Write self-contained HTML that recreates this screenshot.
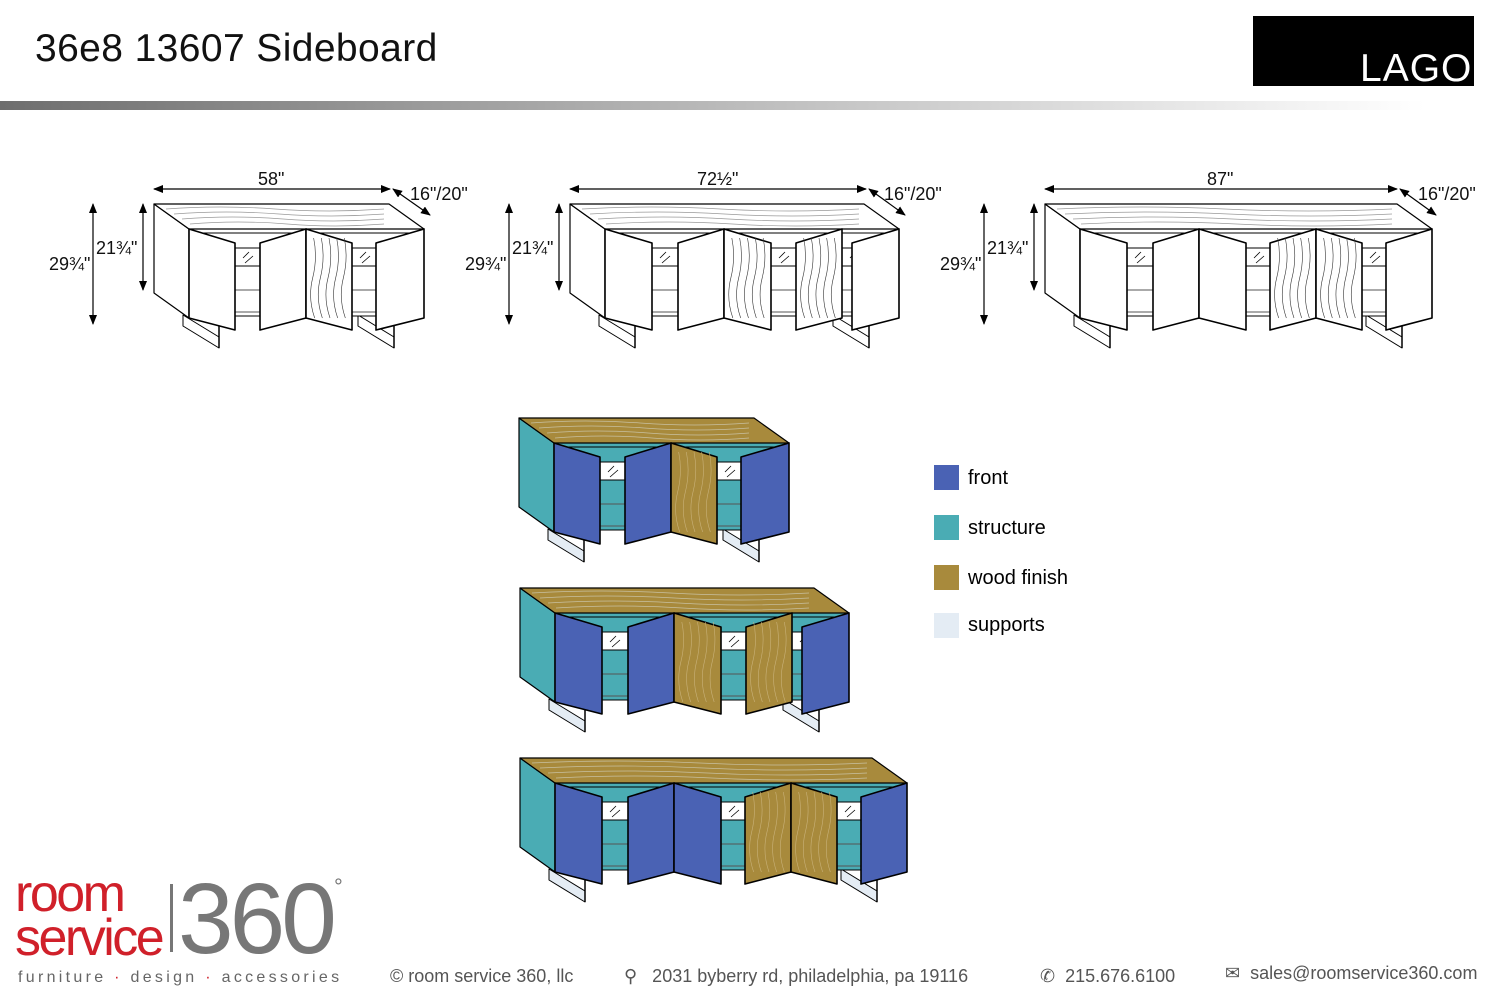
<!DOCTYPE html>
<html><head><meta charset="utf-8"><style>
body{margin:0;width:1500px;height:1000px;background:#fff;overflow:hidden;font-family:"Liberation Sans",sans-serif;position:relative}
.t{position:absolute;white-space:nowrap}
</style></head><body>
<div class="t" style="left:35px;top:27px;font-size:39px;color:#111;letter-spacing:0.4px">36e8 13607 Sideboard</div>
<div style="position:absolute;left:1253px;top:16px;width:221px;height:70px;background:#000"></div>
<div class="t" style="left:1360px;top:47px;font-size:39px;color:#fff;letter-spacing:1px">LAGO</div>
<div style="position:absolute;left:0;top:101px;width:1500px;height:9px;background:linear-gradient(90deg,#6e6e6e,#bdbdbd 50%,#fff 95%)"></div>
<svg id="s" width="1500" height="1000" style="position:absolute;left:0;top:0" xmlns="http://www.w3.org/2000/svg">
<defs><marker id="a" markerWidth="10" markerHeight="8" refX="9" refY="4" orient="auto-start-reverse" markerUnits="userSpaceOnUse"><path d="M0,0L10,4L0,8z" fill="#000"/></marker></defs>
<g font-family="Liberation Sans" font-size="18" fill="#111">
<text x="258" y="185">58"</text><text x="410" y="200">16"/20"</text><text x="96" y="254">21¾"</text><text x="49" y="270">29¾"</text>
<text x="697" y="185">72½"</text><text x="884" y="200">16"/20"</text><text x="512" y="254">21¾"</text><text x="465" y="270">29¾"</text>
<text x="1207" y="185">87"</text><text x="1418" y="200">16"/20"</text><text x="987" y="254">21¾"</text><text x="940" y="270">29¾"</text>
</g>
<g id="g"></g>
</svg>
<div style="position:absolute;left:934px;top:465px;width:25px;height:25px;background:#4a62b4"></div>
<div style="position:absolute;left:934px;top:515px;width:25px;height:25px;background:#4aacb4"></div>
<div style="position:absolute;left:934px;top:565px;width:25px;height:25px;background:#a88a3c"></div>
<div style="position:absolute;left:934px;top:613px;width:25px;height:25px;background:#e4ecf4"></div>
<div class="t" style="left:968px;top:467px;font-size:20px">front</div>
<div class="t" style="left:968px;top:517px;font-size:20px">structure</div>
<div class="t" style="left:968px;top:567px;font-size:20px">wood finish</div>
<div class="t" style="left:968px;top:614px;font-size:20px">supports</div>
<div class="t" style="left:15px;top:872px;font-size:52px;color:#d0202a;line-height:44px;letter-spacing:-2.5px">room<br>service</div>
<div style="position:absolute;left:170px;top:884px;width:3px;height:68px;background:#777"></div>
<div class="t" style="left:178px;top:862px;font-size:100px;color:#777;letter-spacing:-4px">360</div>
<div class="t" style="left:334px;top:874px;font-size:22px;color:#777">°</div>
<div class="t" style="left:18px;top:969px;font-size:16px;color:#666;letter-spacing:3.3px">furniture <span style="color:#d0202a">·</span> design <span style="color:#d0202a">·</span> accessories</div>
<div class="t" style="left:390px;top:966px;font-size:18px;color:#555">© room service 360, llc</div>
<div class="t" style="left:624px;top:966px;font-size:18px;color:#555">⚲&nbsp;&nbsp; 2031 byberry rd, philadelphia, pa 19116</div>
<div class="t" style="left:1040px;top:966px;font-size:18px;color:#555">✆&nbsp; 215.676.6100</div>
<div class="t" style="left:1225px;top:963px;font-size:18px;color:#555">✉&nbsp; sales@roomservice360.com</div>
<script>
var g=document.getElementById('g'),h='';
function P(pts,f,w){return '<polygon points="'+pts+'" fill="'+f+'" stroke="#000" stroke-width="'+(w||1.2)+'" stroke-linejoin="round"/>';}
function L(a,b,c,d,w,col){return '<line x1="'+a+'" y1="'+b+'" x2="'+c+'" y2="'+d+'" stroke="'+(col||'#000')+'" stroke-width="'+(w||1)+'"/>';}
function sb(bx,fr,doors,gaps,dx,dy,col){
 var c=col?{s:'#4aacb4',f:'#4a62b4',w:'#a88a3c',l:'#e4ecf4',g:'#fff'}:{s:'#fff',f:'#fff',w:'#fff',l:'#fff',g:'#fff'};
 var fl=bx+35,o='<g transform="translate('+dx+','+dy+')">';
 [fl-6,fr-66].forEach(function(x){o+=P((x)+',315 '+(x+36)+',337 '+(x+36)+',348 '+(x)+',326',c.l,1);});
 o+=L(fl+30,318,fl+30,348,1.5)+L(fr-30,318,fr-30,348,1.5);
 o+=P(fl+','+229+' '+fr+',229 '+fr+',316 '+fl+',316',c.s,1);
 gaps.forEach(function(q){var a=q[0],b=q[1];
  o+=P(a+',248 '+b+',248 '+b+',266 '+a+',266',c.g,1);
  o+=L(a+8,258,a+14,252,0.8)+L(a+10,263,a+18,256,0.8);
  o+=L(a,290,b,290,1,'#555')+L(a,312,b,312,1,'#555');});
 o+=L(fl,233,fr,233,1);
 o+=P(bx+',204 '+fl+',229 '+fl+',318 '+bx+',293',c.s);
 o+=P(bx+',204 '+(fr-35)+',204 '+fr+',229 '+fl+',229',col?c.w:'#fff');
 var tc=col?'#c8c0a0':'#999';
 for(var i=0;i<4;i++){var y=209+i*5,x0=bx+12+i*8,x1=fr-40;
  o+='<path d="M'+x0+','+y+' q'+((x1-x0)/4)+',-4 '+((x1-x0)/2)+',0 t'+((x1-x0)/2)+',0" fill="none" stroke="'+tc+'" stroke-width="0.7"/>';}
 doors.forEach(function(d){var a=d[0],b=d[1],hl=d[2]=='L',f=d[3]?c.w:c.f;
  var pts=hl?(a+',229 '+b+',243 '+b+',330 '+a+',318'):(a+',243 '+b+',229 '+b+',318 '+a+',330');
  o+=P(pts,f,1.6);
  if(d[3]){for(var k=1;k<6;k++){var x=a+k*(b-a)/6;o+='<path d="M'+x+',238 q4,20 -1,40 t2,40" fill="none" stroke="'+(col?'#c9b27a':'#333')+'" stroke-width="0.6"/>';}}
 });
 o+='</g>';return o;}
var D1=[[189,235,'L'],[260,306,'R'],[306,352,'L',1],[376,424,'R']],G1=[[235,260],[352,376]];
var D2=[[605,652,'L'],[678,724,'R'],[724,771,'L',1],[796,842,'R',1],[852,899,'R']],G2=[[652,678],[771,796],[842,852]];
var D3=[[1080,1127,'L'],[1153,1199,'R'],[1199,1246,'L'],[1270,1316,'R',1],[1316,1362,'L',1],[1386,1432,'R']],G3=[[1127,1153],[1246,1270],[1362,1386]];
h+=sb(154,424,D1,G1,0,0,0)+sb(570,899,D2,G2,0,0,0)+sb(1045,1432,D3,G3,0,0,0);
h+=sb(154,424,D1,G1,365,214,1)+sb(570,899,D2,G2,-50,384,1)+sb(1045,1432,D3,G3,-525,554,1);
function ar(a,b,c,d){return '<line x1="'+a+'" y1="'+b+'" x2="'+c+'" y2="'+d+'" stroke="#000" stroke-width="1.2" marker-start="url(#a)" marker-end="url(#a)"/>';}
h+=ar(154,189,390,189)+ar(393,189,430,215)+ar(93,204,93,324)+ar(143,204,143,290);
h+=ar(570,189,866,189)+ar(869,189,905,215)+ar(509,204,509,324)+ar(559,204,559,290);
h+=ar(1045,189,1397,189)+ar(1400,189,1436,215)+ar(984,204,984,324)+ar(1034,204,1034,290);
g.innerHTML=h;
</script>
</body></html>
